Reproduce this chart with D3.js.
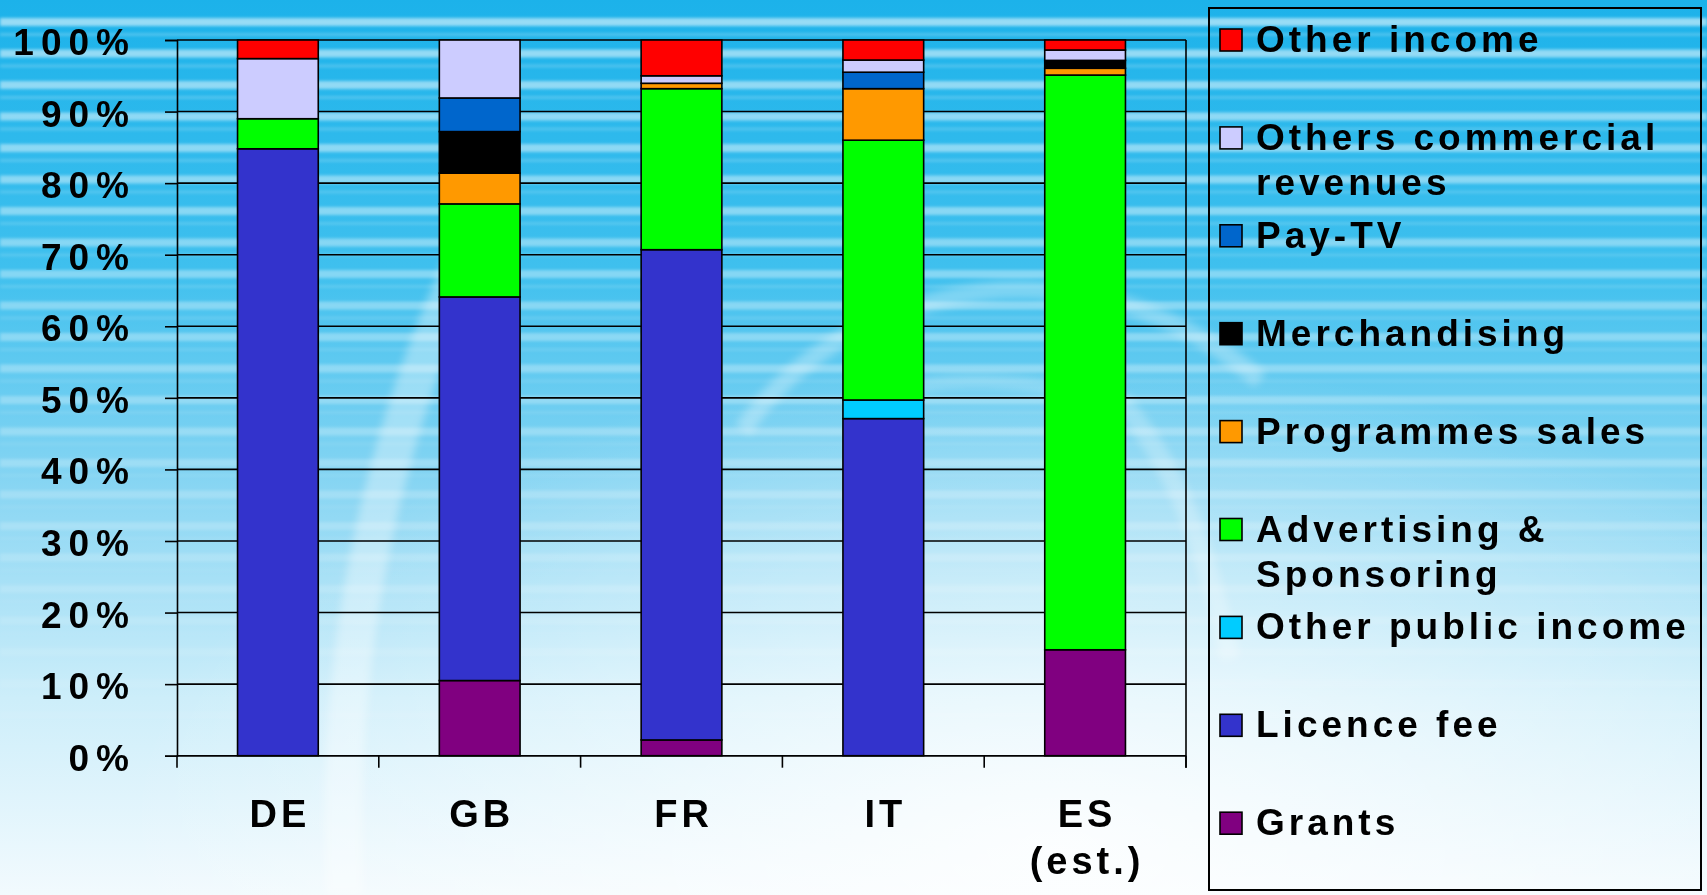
<!DOCTYPE html>
<html>
<head>
<meta charset="utf-8">
<script src="https://cdn.jsdelivr.net/npm/d3@7"></script>
<style>
  html, body { margin: 0; padding: 0; background: #ffffff; }
  svg { display: block; }
  text { font-family: "Liberation Sans", Arial, Helvetica, sans-serif; font-weight: bold; fill: #000; }
</style>
</head>
<body>
<svg id="chart" width="1707" height="895"></svg>
<script>
// Broadcaster revenue structure by country (share of total income, %)
const categories = ["DE", "GB", "FR", "IT", "ES"];
const categoryLabels = [["DE"], ["GB"], ["FR"], ["IT"], ["ES", "(est.)"]];

const grants           = [0.0, 10.5,  2.2,  0.0, 14.8];
const licenceFee       = [84.8, 53.6, 68.5, 47.1,  0.0];
const otherPublic      = [0.0,  0.0,  0.0,  2.6,  0.0];
const advertising      = [4.2, 13.0, 22.5, 36.3, 80.3];
const programmeSales   = [0.0,  4.3,  0.75, 7.2,  0.95];
const merchandising    = [0.0,  5.8,  0.0,  0.0,  1.1];
const payTV            = [0.0,  4.7,  0.0,  2.3,  0.0];
const othersCommercial = [8.4,  8.1,  1.05, 1.7,  1.45];
const otherIncome      = [2.6,  0.0,  5.0,  2.8,  1.4];

const yTicks = [0, 10, 20, 30, 40, 50, 60, 70, 80, 90, 100];

// stacking order, bottom to top
const seriesKeys = ["grants", "licence", "otherPublic", "advertising", "programmes",
                    "merchandising", "payTV", "othersCommercial", "otherIncome"];
const seriesValues = {
  grants: grants, licence: licenceFee, otherPublic: otherPublic, advertising: advertising,
  programmes: programmeSales, merchandising: merchandising, payTV: payTV,
  othersCommercial: othersCommercial, otherIncome: otherIncome
};
const seriesColors = {
  grants: "#800080", licence: "#3333cc", otherPublic: "#00ccff", advertising: "#00ff00",
  programmes: "#ff9900", merchandising: "#000000", payTV: "#0066cc",
  othersCommercial: "#ccccff", otherIncome: "#ff0000"
};
// legend, top to bottom
const legendItems = [
  { key: "otherIncome",      lines: ["Other income"] },
  { key: "othersCommercial", lines: ["Others commercial", "revenues"] },
  { key: "payTV",            lines: ["Pay-TV"] },
  { key: "merchandising",    lines: ["Merchandising"] },
  { key: "programmes",       lines: ["Programmes sales"] },
  { key: "advertising",      lines: ["Advertising &", "Sponsoring"] },
  { key: "otherPublic",      lines: ["Other public income"] },
  { key: "licence",          lines: ["Licence fee"] },
  { key: "grants",           lines: ["Grants"] }
];

const rows = categories.map((c, i) => {
  const r = { category: c };
  seriesKeys.forEach(k => { r[k] = seriesValues[k][i]; });
  return r;
});

const W = 1707, H = 895;
const plot = { left: 177, right: 1186, top: 40, bottom: 755.7 };

const svg = d3.select("#chart");
const defs = svg.append("defs");

// ---- background: sky gradient with horizontal light stripes ----
const bg = defs.append("linearGradient").attr("id", "sky")
  .attr("x1", 0).attr("y1", 0).attr("x2", 0).attr("y2", 1);
[["0%", "#1cb2ea"], ["30%", "#3fc0ee"], ["55%", "#8ad6f3"], ["78%", "#cdeefa"], ["100%", "#f2fafe"]]
  .forEach(([o, c]) => bg.append("stop").attr("offset", o).attr("stop-color", c));

const glow = defs.append("radialGradient").attr("id", "glow")
  .attr("cx", 0.62).attr("cy", 0.95).attr("r", 0.55);
glow.append("stop").attr("offset", "0%").attr("stop-color", "#ffffff").attr("stop-opacity", 0.85);
glow.append("stop").attr("offset", "100%").attr("stop-color", "#ffffff").attr("stop-opacity", 0);

const blur = defs.append("filter").attr("id", "soft").attr("x", "-5%").attr("y", "-50%")
  .attr("width", "110%").attr("height", "200%");
blur.append("feGaussianBlur").attr("stdDeviation", 1.6);

const swooshBlur = defs.append("filter").attr("id", "swoosh");
swooshBlur.append("feGaussianBlur").attr("stdDeviation", 4);

svg.append("rect").attr("width", W).attr("height", H).attr("fill", "url(#sky)");
svg.append("rect").attr("width", W).attr("height", H).attr("fill", "url(#glow)");

const stripes = svg.append("g").attr("filter", "url(#soft)");
for (let y = 18; y < 720; y += 31.5) {
  const fade = Math.max(0, 1 - y / 720);
  stripes.append("rect").attr("x", 0).attr("y", y).attr("width", W).attr("height", 8)
    .attr("fill", "#ffffff").attr("opacity", 0.5 * fade + 0.05);
  stripes.append("rect").attr("x", 0).attr("y", y + 15).attr("width", W).attr("height", 3)
    .attr("fill", "#ffffff").attr("opacity", 0.22 * fade);
}

// faint logo swoosh
const sw = svg.append("g").attr("filter", "url(#swoosh)").attr("fill", "none").attr("stroke", "#ffffff");
sw.append("path").attr("d", "M 345 895 C 335 700, 365 470, 470 250")
  .attr("stroke-width", 38).attr("opacity", 0.35);
sw.append("path").attr("d", "M 743 430 C 790 360, 880 300, 1000 290 C 1100 285, 1190 320, 1260 380")
  .attr("stroke-width", 18).attr("opacity", 0.3);
sw.append("path").attr("d", "M 900 390 C 960 375, 1060 380, 1120 410")
  .attr("stroke-width", 14).attr("opacity", 0.22);
sw.append("path").attr("d", "M 1120 400 C 1180 470, 1210 560, 1230 660")
  .attr("stroke-width", 20).attr("opacity", 0.25);

// ---- scales ----
const x = d3.scaleBand().domain(categories).range([plot.left, plot.right])
  .paddingInner(0.6).paddingOuter(0.3);
const y = d3.scaleLinear().domain([0, 100]).range([plot.bottom, plot.top]);

// gridlines
svg.append("g").selectAll("line").data(yTicks).join("line")
  .attr("x1", plot.left).attr("x2", plot.right)
  .attr("y1", d => y(d)).attr("y2", d => y(d))
  .attr("stroke", "#000").attr("stroke-width", 1.6);

// right frame edge, extended like the category ticks
svg.append("line").attr("x1", plot.right).attr("x2", plot.right)
  .attr("y1", plot.top).attr("y2", plot.bottom + 12)
  .attr("stroke", "#000").attr("stroke-width", 1.6);

// ---- stacked bars ----
const stacked = d3.stack().keys(seriesKeys)(rows);
svg.append("g").selectAll("g").data(stacked).join("g")
  .attr("fill", s => seriesColors[s.key])
  .selectAll("rect").data(s => s.filter(d => d[1] - d[0] > 0)).join("rect")
  .attr("x", d => x(d.data.category))
  .attr("width", x.bandwidth())
  .attr("y", d => y(d[1]))
  .attr("height", d => y(d[0]) - y(d[1]))
  .attr("stroke", "#000").attr("stroke-width", 1.6);

// ---- y axis ----
const yAxis = svg.append("g").attr("transform", `translate(${plot.left},0)`)
  .call(d3.axisLeft(y).tickValues(yTicks).tickSize(12).tickPadding(29).tickFormat(d => d + "%"));
yAxis.select(".domain").attr("stroke", "#000").attr("stroke-width", 1.6);
yAxis.selectAll(".tick line").attr("stroke", "#000").attr("stroke-width", 1.6);
yAxis.selectAll(".tick text")
  .attr("font-size", 37).attr("letter-spacing", 7).attr("fill", "#000")
  .attr("font-family", "Liberation Sans, Arial, sans-serif").attr("font-weight", "bold")
  .attr("dy", null).attr("y", 14.5);

// ---- x axis (ticks between categories) ----
const half = (x.step() - x.bandwidth()) / 2;
const bounds = categories.map(c => x(c) - half).concat([x(categories[categories.length - 1]) + x.bandwidth() + half]);
svg.append("line").attr("x1", plot.left).attr("x2", plot.right)
  .attr("y1", plot.bottom).attr("y2", plot.bottom).attr("stroke", "#000").attr("stroke-width", 1.6);
svg.append("g").selectAll("line").data(bounds).join("line")
  .attr("x1", d => d).attr("x2", d => d)
  .attr("y1", plot.bottom).attr("y2", plot.bottom + 12)
  .attr("stroke", "#000").attr("stroke-width", 1.6);

const xl = svg.append("g").selectAll("text").data(categories).join("text")
  .attr("text-anchor", "middle").attr("font-size", 38).attr("letter-spacing", 4)
  .attr("x", d => x(d) + x.bandwidth() / 2 + 2)
  .attr("y", 827);
xl.selectAll("tspan").data((d, i) => categoryLabels[i]).join("tspan")
  .attr("x", function () { return d3.select(this.parentNode).attr("x"); })
  .attr("dy", (d, i) => i === 0 ? 0 : 47)
  .text(d => d);

// ---- legend ----
const legend = svg.append("g");
legend.append("rect").attr("x", 1209).attr("y", 8).attr("width", 492).attr("height", 882)
  .attr("fill", "none").attr("stroke", "#000").attr("stroke-width", 2);

const item = legend.selectAll("g.item").data(legendItems).join("g").attr("class", "item")
  .attr("transform", (d, i) => `translate(0,${52 + i * 97.9})`);
item.append("rect").attr("x", 1220).attr("y", -23).attr("width", 22).attr("height", 22)
  .attr("fill", d => seriesColors[d.key]).attr("stroke", "#000").attr("stroke-width", 1.6);
item.append("text").attr("font-size", 37).attr("letter-spacing", 4)
  .selectAll("tspan").data(d => d.lines).join("tspan")
  .attr("x", 1256).attr("y", (d, i) => i * 45)
  .text(d => d);
</script>
</body>
</html>
